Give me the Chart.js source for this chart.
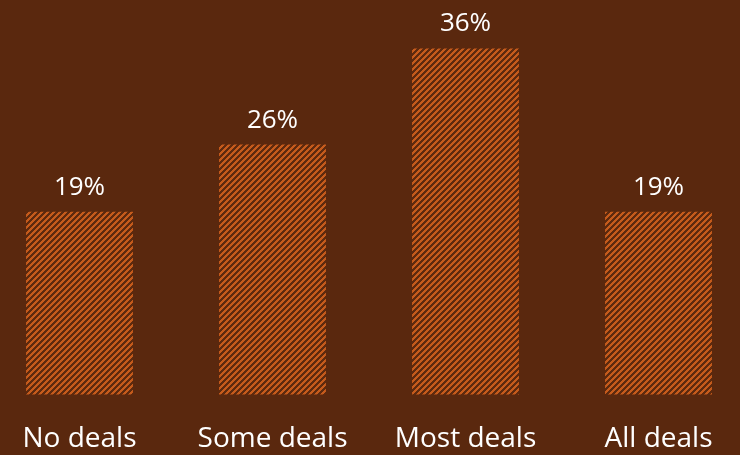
<!DOCTYPE html>
<html>
<head>
<meta charset="utf-8">
<script src="https://cdn.jsdelivr.net/npm/chart.js@4.4.1/dist/chart.umd.min.js"></script>
<style>
  html, body { margin: 0; padding: 0; background: #5a280e; }
  #wrap { width: 740px; height: 455px; }
</style>
</head>
<body>
<div id="wrap"><canvas id="myChart" width="740" height="455"></canvas></div>
<script>
var categories = ['No deals', 'Some deals', 'Most deals', 'All deals'];
var shares = [19, 26, 36, 19];
var valueLabels = ['19%', '26%', '36%', '19%'];

var barColor = '#c55b1c';
var stripeGap = '#5e2a0e';
var fontFamily = "'Open Sans', 'Noto Sans', sans-serif";

// diagonal hatch fill for the bars
function makeHatch() {
    var tile = document.createElement('canvas');
    tile.width = 6;
    tile.height = 6;
    var ctx = tile.getContext('2d');
    ctx.fillStyle = stripeGap;
    ctx.fillRect(0, 0, 6, 6);
    ctx.fillStyle = barColor;
    for (var y = 0; y < 6; y++) {
        for (var x = 0; x < 6; x++) {
            if ((x + y) % 6 < 3) ctx.fillRect(x, y, 1, 1);
        }
    }
    return ctx.createPattern(tile, 'repeat');
}

var valueLabelPlugin = {
    id: 'valueLabels',
    afterDatasetsDraw: function(chart) {
        var ctx = chart.ctx;
        var meta = chart.getDatasetMeta(0);
        ctx.save();
        ctx.fillStyle = '#ffffff';
        ctx.font = '26px ' + fontFamily;
        ctx.textAlign = 'center';
        ctx.textBaseline = 'alphabetic';
        meta.data.forEach(function(bar, i) {
            ctx.fillText(valueLabels[i], bar.x, bar.y - 17);
        });
        ctx.restore();
    }
};

function chartInit() {
    var el = document.getElementById('myChart');

    const data = {
        labels: categories,
        datasets: [{
            data: shares,
            backgroundColor: makeHatch(),
            borderWidth: 0,
            barPercentage: 0.554,
            categoryPercentage: 1,
            clip: false
        }]
    };

    const config = {
        type: 'bar',
        data: data,
        plugins: [valueLabelPlugin],
        options: {
            responsive: false,
            animation: false,
            layout: {
                padding: { left: 79.5, right: 81.5, top: 10, bottom: -29 }
            },
            plugins: {
                legend: { display: false },
                tooltip: { enabled: false }
            },
            scales: {
                x: {
                    offset: false,
                    grid: { display: false, drawTicks: false },
                    border: { display: false },
                    ticks: {
                        color: '#ffffff',
                        padding: 28,
                        maxRotation: 0,
                        font: { family: fontFamily, size: 28 }
                    },
                    // the layout padding already leaves room for the end labels
                    afterFit: function(scale) {
                        scale.paddingLeft = 0;
                        scale.paddingRight = 0;
                    }
                },
                y: {
                    display: false,
                    min: 0,
                    max: 40
                }
            }
        }
    };

    new Chart(el, config);
}

chartInit();
</script>
</body>
</html>
